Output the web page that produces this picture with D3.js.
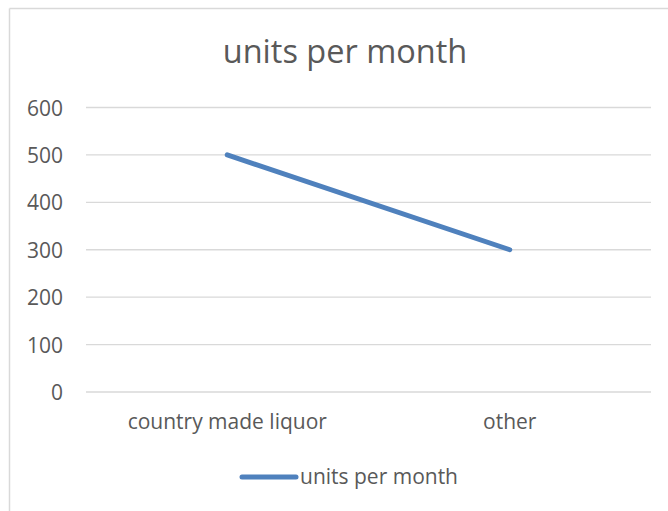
<!DOCTYPE html>
<html><head><meta charset="utf-8">
<script src="https://cdn.jsdelivr.net/npm/d3@7"></script>
<style>html,body{margin:0;padding:0;background:#fff;}svg{display:block;font-family:"Open Sans",sans-serif;}</style>
</head><body>
<svg id="c" width="668" height="511"></svg>
<script>
const title = "units per month";
const seriesName = "units per month";
const categories = ["country made liquor", "other"];
const values = [500, 300];
const yTicks = [0, 100, 200, 300, 400, 500, 600];

const svg = d3.select("#c");
const W = 668, H = 511;
const plot = {left: 86, right: 651, top: 107.5, bottom: 392};
const FONT = "'Open Sans',sans-serif";
const LBL = 21;
const TXT = "#595959";

svg.append("line").attr("x1", 9.5).attr("x2", W).attr("y1", 8.5).attr("y2", 8.5).attr("stroke", "#d9d9d9").attr("stroke-width", 1.5);
svg.append("line").attr("x1", 9.5).attr("x2", 9.5).attr("y1", 8.5).attr("y2", H).attr("stroke", "#d9d9d9").attr("stroke-width", 1.5);

const x = d3.scaleBand().domain(categories).range([plot.left, plot.right]);
const y = d3.scaleLinear().domain([0, 600]).range([plot.bottom, plot.top]);

svg.append("g").selectAll("line").data(yTicks).join("line")
  .attr("x1", plot.left).attr("x2", plot.right)
  .attr("y1", d => y(d)).attr("y2", d => y(d))
  .attr("stroke", "#d9d9d9").attr("stroke-width", 1.3);

const yAxis = d3.axisLeft(y).tickValues(yTicks).tickSize(0).tickPadding(0);
const gy = svg.append("g").attr("transform", `translate(63,0)`).call(yAxis);
gy.select(".domain").remove();
gy.selectAll("text").attr("fill", TXT).attr("font-size", LBL).attr("font-family", FONT).attr("dy", "0.36em");

const xAxis = d3.axisBottom(x).tickSize(0).tickPadding(0);
const gx = svg.append("g").attr("transform", `translate(0,429)`).call(xAxis);
gx.select(".domain").remove();
gx.selectAll("text").attr("fill", TXT).attr("font-size", LBL).attr("font-family", FONT).attr("dy", 0).attr("y", 0);

const data = categories.map((c, i) => ({c, v: values[i]}));
const line = d3.line().x(d => x(d.c) + x.bandwidth() / 2).y(d => y(d.v));
svg.append("path").datum(data).attr("d", line)
  .attr("fill", "none").attr("stroke", "#4f81bd").attr("stroke-width", 5).attr("stroke-linecap", "round");

svg.append("text").attr("x", 345).attr("y", 63).attr("text-anchor", "middle")
  .attr("fill", TXT).attr("font-size", 32.5).attr("font-family", FONT).text(title);

svg.append("line").attr("x1", 242).attr("x2", 296).attr("y1", 477).attr("y2", 477)
  .attr("stroke", "#4f81bd").attr("stroke-width", 5).attr("stroke-linecap", "round");
svg.append("text").attr("x", 300).attr("y", 483.5)
  .attr("fill", TXT).attr("font-size", LBL).attr("font-family", FONT).text(seriesName);
</script>
</body></html>
